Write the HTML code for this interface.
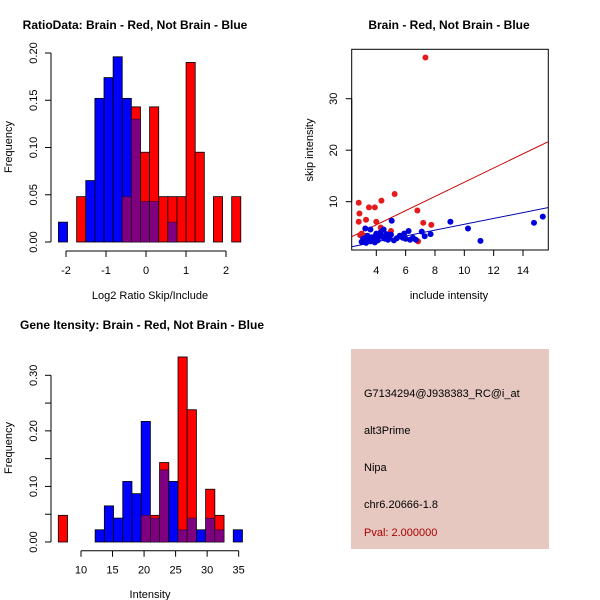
<!DOCTYPE html>
<html><head><meta charset="utf-8"><style>
body{margin:0;background:#fff}
svg{display:block;font-family:"Liberation Sans",sans-serif}
</style></head><body>
<svg id="s" width="600" height="600" viewBox="0 0 600 600">
<rect width="600" height="600" fill="#fff"/>
<defs><clipPath id="c"><rect x="351.7" y="49.3" width="196.6" height="200.7"/></clipPath></defs>
</svg>
<script>
const ratioRed=[0,0,0.048,0,0,0,0,0.048,0.143,0.095,0.143,0.048,0.048,0.048,0.190,0.095,0,0.048,0,0.048];
const ratioBlue=[0.021,0,0,0.065,0.152,0.174,0.196,0.152,0.130,0.043,0.043,0,0.021,0,0,0,0,0,0,0];
const ratioStart=-2.19, ratioWidth=0.228;
const ratioYTicks=["0.00","0.05","0.10","0.15","0.20"];
const ratioXTicks=[-2,-1,0,1,2];
const intRed=[0.048,0,0,0,0,0,0,0,0,0.048,0.048,0.143,0,0.333,0.238,0,0.095,0.048,0,0];
const intBlue=[0,0,0,0,0.022,0.065,0.043,0.109,0.087,0.217,0.043,0.130,0.109,0.022,0.043,0.022,0.043,0.022,0,0.022];
const intStart=6.4, intWidth=1.46;
const intYTicks=["0.00","","0.10","","0.20","","0.30"];
const intYVals=[0,0.05,0.10,0.15,0.20,0.25,0.30];
const intXTicks=[10,15,20,25,30,35];
const redX=[2.8,2.85,2.8,2.9,3.0,3.3,3.5,3.9,4.0,4.3,4.35,5.0,5.25,6.8,6.85,7.2,7.35,7.75,3.2];
const redY=[9.8,7.7,6.1,3.5,3.8,6.5,8.9,8.9,6.1,5.0,10.2,4.3,11.5,8.3,2.3,5.9,38,5.5,3.4];
const blueX=[3.0,3.1,3.2,3.25,3.3,3.4,3.5,3.6,3.7,3.8,3.9,4.0,4.1,4.2,4.3,4.4,4.5,4.6,4.7,4.8,4.9,5.05,5.2,5.4,5.6,5.8,5.9,6.0,6.2,6.3,6.5,6.7,7.1,7.3,7.7,9.05,10.25,11.1,14.75,15.35,3.6,4.1,4.5,5.0,3.3,3.9];
const blueY=[2.2,2.8,2.4,4.8,3.0,3.4,2.9,4.6,3.1,2.6,2.1,3.8,2.9,3.5,4.1,3.3,4.6,2.8,3.7,2.6,3.3,6.3,2.5,2.9,3.4,3.0,3.8,2.8,4.3,2.6,3.0,2.6,4.2,3.3,3.7,6.1,4.8,2.4,5.9,7.1,2.3,2.5,3.0,3.6,2.0,3.2];
const S=document.getElementById('s');const NS='http://www.w3.org/2000/svg';
function mk(t,a,name,txt){const e=document.createElementNS(NS,t);for(const k in a)e.setAttribute(k,a[k]);


if(txt!==undefined)e.textContent=txt;S.appendChild(e);return e;}
function txt(x,y,s,name,opt){opt=opt||{};const a={x:x,y:y,'font-size':opt.size||11,'text-anchor':opt.anchor||'middle',fill:opt.fill||'#000'};
if(opt.bold)a['font-weight']='bold';if(opt.rot)a.transform='rotate(-90 '+x+' '+y+')';return mk('text',a,name,s);}
function hist(red,blue,start,w,sx,sy,y0,pre){
 for(let i=0;i<red.length;i++){const r=red[i],b=blue[i];if(r==0&&b==0)continue;
  const x0=sx(start+i*w),x1=sx(start+(i+1)*w);const mx=Math.max(r,b),mn=Math.min(r,b);
  mk('rect',{x:x0,y:sy(mx),width:x1-x0,height:y0-sy(mx),fill:r>=b?'#ff0000':'#0000ff',stroke:'#000','stroke-width':0.8},pre+'-bar-'+i);
  if(mn>0)mk('rect',{x:x0,y:sy(mn),width:x1-x0,height:y0-sy(mn),fill:'#7f007f',stroke:'#000','stroke-width':0.8,'stroke-opacity':0.5},pre+'-overlap-'+i);}
}
function yaxis(x,ticks,vals,sy,pre){mk('line',{x1:x,x2:x,y1:sy(vals[0]),y2:sy(vals[vals.length-1]),stroke:'#000'},pre+'-y-axis');
 ticks.forEach((t,i)=>{const y=sy(vals[i]);mk('line',{x1:x-6,x2:x,y1:y,y2:y,stroke:'#000'},pre+'-y-tick');if(t)txt(x-14,y,t,pre+'-y-tick-label',{rot:1});});}
function xaxis(y,ticks,sx,pre){mk('line',{x1:sx(ticks[0]),x2:sx(ticks[ticks.length-1]),y1:y,y2:y,stroke:'#000'},pre+'-x-axis');
 ticks.forEach(t=>{const x=sx(t);mk('line',{x1:x,x2:x,y1:y,y2:y+6,stroke:'#000'},pre+'-x-tick');txt(x,y+23,String(t),pre+'-x-tick-label');});}
// plot 1
{const sx=v=>66+(v+2)*40, y0=242, sy=v=>y0-v*945;
 hist(ratioRed,ratioBlue,ratioStart,ratioWidth,sx,sy,y0,'ratio');
 yaxis(51,ratioYTicks,ratioYTicks.map(Number),sy,'ratio');
 xaxis(251,ratioXTicks,sx,'ratio');
 txt(135,29,'RatioData: Brain - Red, Not Brain - Blue','ratio-title',{bold:1,size:12});
 txt(150,299,'Log2 Ratio Skip/Include','ratio-x-title');
 txt(12,147,'Frequency','ratio-y-title',{rot:1});}
// plot 3
{const sx=v=>81+(v-10)*6.307, y0=542, sy=v=>y0-v*555.7;
 hist(intRed,intBlue,intStart,intWidth,sx,sy,y0,'intensity');
 yaxis(51,intYTicks,intYVals,sy,'intensity');
 xaxis(550.7,intXTicks,sx,'intensity');
 txt(142,329,'Gene Itensity: Brain - Red, Not Brain - Blue','intensity-title',{bold:1,size:12});
 txt(150,598,'Intensity','intensity-x-title');
 txt(12,448,'Frequency','intensity-y-title',{rot:1});}
// scatter
{const sx=v=>376.3+(v-4)*14.67, sy=v=>201.7-(v-10)*5.15;
 mk('rect',{x:351.7,y:49.3,width:196.6,height:200.7,fill:'none',stroke:'#000'},'scatter-box');
 const x0=2.32,x1=15.96;
 mk('line',{x1:sx(x0),y1:sy(1.378*x0),x2:sx(x1),y2:sy(1.378*x1),stroke:'#cc0000','clip-path':'url(#c)'},'red-fit-line');
 mk('line',{x1:sx(x0),y1:sy(0.567*x0-0.06),x2:sx(x1),y2:sy(0.567*x1-0.06),stroke:'#0000aa','clip-path':'url(#c)'},'blue-fit-line');
 redX.forEach((x,i)=>mk('circle',{cx:sx(x),cy:sy(redY[i]),r:3,fill:'#e41a1c'},'red-point'));
 blueX.forEach((x,i)=>mk('circle',{cx:sx(x),cy:sy(blueY[i]),r:3,fill:'#0000dd'},'blue-point'));
 const yv=[10,20,30];yv.forEach(v=>{const y=sy(v);mk('line',{x1:345.7,x2:351.7,y1:y,y2:y,stroke:'#000'},'scatter-y-tick');txt(337,y,String(v),'scatter-y-tick-label',{rot:1});});
 mk('line',{x1:351.7,x2:351.7,y1:sy(10),y2:sy(30),stroke:'#000'},'scatter-y-axis');
 const xv=[4,6,8,10,12,14];xv.forEach(v=>{const x=sx(v);mk('line',{x1:x,x2:x,y1:250,y2:256,stroke:'#000'},'scatter-x-tick');txt(x,274,String(v),'scatter-x-tick-label');});
 txt(449,29,'Brain - Red, Not Brain - Blue','scatter-title',{bold:1,size:12});
 txt(449,299,'include intensity','scatter-x-title');
 txt(313,150,'skip intensity','scatter-y-title',{rot:1});}
// info panel
mk('rect',{x:351,y:349,width:198,height:200,fill:'#e6c8c0'},'info-panel');
const info=['G7134294@J938383_RC@i_at','alt3Prime','Nipa','chr6.20666-1.8'];
const infoY=[397,434,471,508];
info.forEach((t,i)=>txt(364,infoY[i],t,'info-line-'+i,{anchor:'start'}));
txt(364,536,'Pval: 2.000000','info-pval',{anchor:'start',fill:'#aa0000'});
</script>
</body></html>
